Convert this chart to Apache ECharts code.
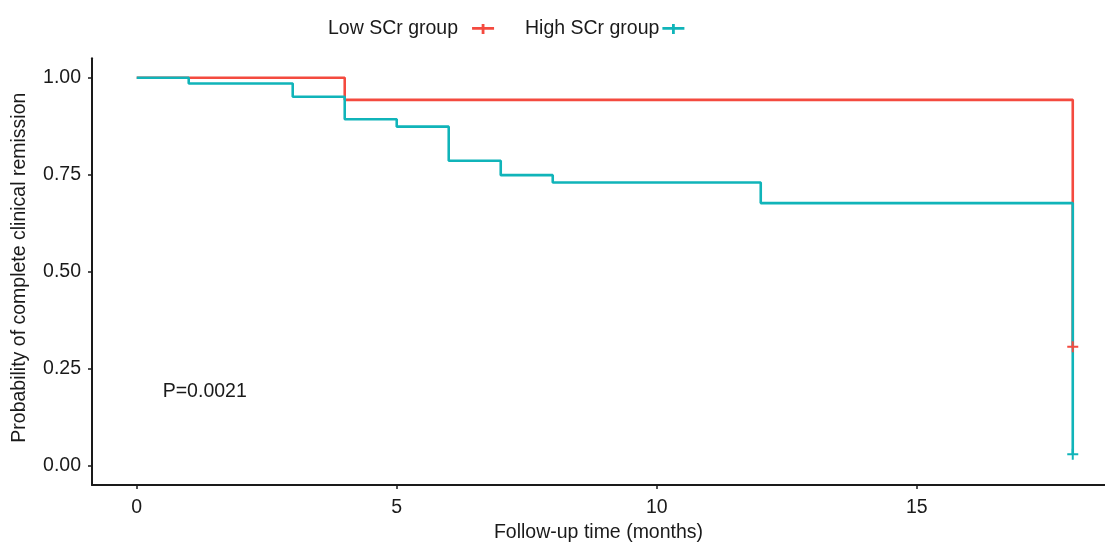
<!DOCTYPE html>
<html>
<head>
<meta charset="utf-8">
<script src="https://cdn.jsdelivr.net/npm/echarts@6/dist/echarts.min.js"></script>
<style>html,body{margin:0;padding:0;background:#fff;}#c{width:1105px;height:543px;}</style>
</head>
<body>
<div id="c"></div>
<script>
var groupNames = ['Low SCr group', 'High SCr group'];
var lowTimes = [0, 4, 18];
var lowSurv = [1.0, 0.943, 0.307];
var highTimes = [0, 1, 3, 4, 5, 6, 7, 8, 12, 18];
var highSurv = [1.0, 0.985, 0.951, 0.893, 0.874, 0.786, 0.749, 0.730, 0.677, 0.030];
var lowCensor = [[18, 0.307]];
var highCensor = [[18, 0.030]];
var xTicks = [0, 5, 10, 15];
var yTicks = [0, 0.25, 0.5, 0.75, 1.0];
var pText = 'P=0.0021';
var pPos = [0.5, 0.192];

var colors = ['#F44A3F', '#10B4B9'];
var FONT = 'Liberation Sans';
var FS = 19.5;
var TXT = '#1a1a1a';

function zip(a, b) { return a.map(function (v, i) { return [v, b[i]]; }); }

var plusPath = 'path://M0,4.1h10v1.8H0z M4.1,0h1.8v10h-1.8z';
var legendIcon = 'path://M0,3h22v2.8H0z M9.6,0h2.8v10h-2.8z';

var chart = echarts.init(document.getElementById('c'), null, {renderer: 'canvas'});
chart.setOption({
  animation: false,
  backgroundColor: '#fff',
  textStyle: {fontFamily: FONT},
  grid: {left: 92, right: 0, top: 58.3, bottom: 58, containLabel: false, outerBoundsMode: 'none'},
  legend: [{
    data: [{name: groupNames[0], icon: legendIcon, itemStyle: {color: colors[0]}}],
    left: 328, top: 19, padding: 0, align: 'right', itemWidth: 22, itemHeight: 10,
    textStyle: {fontFamily: FONT, fontSize: FS, color: TXT, padding: [0, 9, 0, 0]},
    selectedMode: false
  }, {
    data: [{name: groupNames[1], icon: legendIcon, itemStyle: {color: colors[1]}}],
    left: 525, top: 19, padding: 0, align: 'right', itemWidth: 22, itemHeight: 10,
    textStyle: {fontFamily: FONT, fontSize: FS, color: TXT, padding: [0, -2, 0, 0]},
    selectedMode: false
  }],
  xAxis: {
    type: 'value', min: -0.86, max: 18.62,
    name: 'Follow-up time (months)', nameLocation: 'middle', nameGap: 38,
    nameTextStyle: {fontFamily: FONT, fontSize: FS, color: TXT},
    axisLine: {show: true, onZero: false, lineStyle: {color: '#1a1a1a', width: 2}},
    axisTick: {show: true, length: 4, customValues: xTicks, lineStyle: {color: '#1a1a1a', width: 1.5}},
    axisLabel: {customValues: xTicks, fontFamily: FONT, fontSize: FS, color: TXT, margin: 13},
    splitLine: {show: false}
  },
  yAxis: {
    type: 'value', min: -0.049, max: 1.05,
    name: 'Probability of complete clinical remission', nameLocation: 'middle', nameGap: 62,
    nameTextStyle: {fontFamily: FONT, fontSize: FS, color: TXT, padding: [0, 0, 0, 8]},
    axisLine: {show: true, onZero: false, lineStyle: {color: '#1a1a1a', width: 2}},
    axisTick: {show: true, length: 4, customValues: yTicks, lineStyle: {color: '#1a1a1a', width: 1.5}},
    axisLabel: {customValues: yTicks, fontFamily: FONT, fontSize: FS, color: TXT, margin: 11,
      formatter: function (v) { return v.toFixed(2); }},
    splitLine: {show: false}
  },
  series: [{
    name: groupNames[0], type: 'line', step: 'end', data: zip(lowTimes, lowSurv),
    showSymbol: false, symbol: 'none', lineStyle: {color: colors[0], width: 2.6}, itemStyle: {color: colors[0]}, z: 2
  }, {
    name: groupNames[1], type: 'line', step: 'end', data: zip(highTimes, highSurv),
    showSymbol: false, symbol: 'none', lineStyle: {color: colors[1], width: 2.6}, itemStyle: {color: colors[1]}, z: 3
  }, {
    name: groupNames[0] + ' censor', type: 'scatter', data: lowCensor, symbol: plusPath, symbolSize: 11,
    itemStyle: {color: colors[0], opacity: 1}, z: 4
  }, {
    name: groupNames[1] + ' censor', type: 'scatter', data: highCensor, symbol: plusPath, symbolSize: 11,
    itemStyle: {color: colors[1], opacity: 1}, z: 4
  }, {
    name: 'pval', type: 'scatter', data: [pPos], symbolSize: 0, silent: true,
    itemStyle: {opacity: 1},
    label: {show: true, position: 'right', distance: 0, formatter: pText, opacity: 1,
      fontFamily: FONT, fontSize: FS, color: TXT}
  }]
});
</script>
</body>
</html>
